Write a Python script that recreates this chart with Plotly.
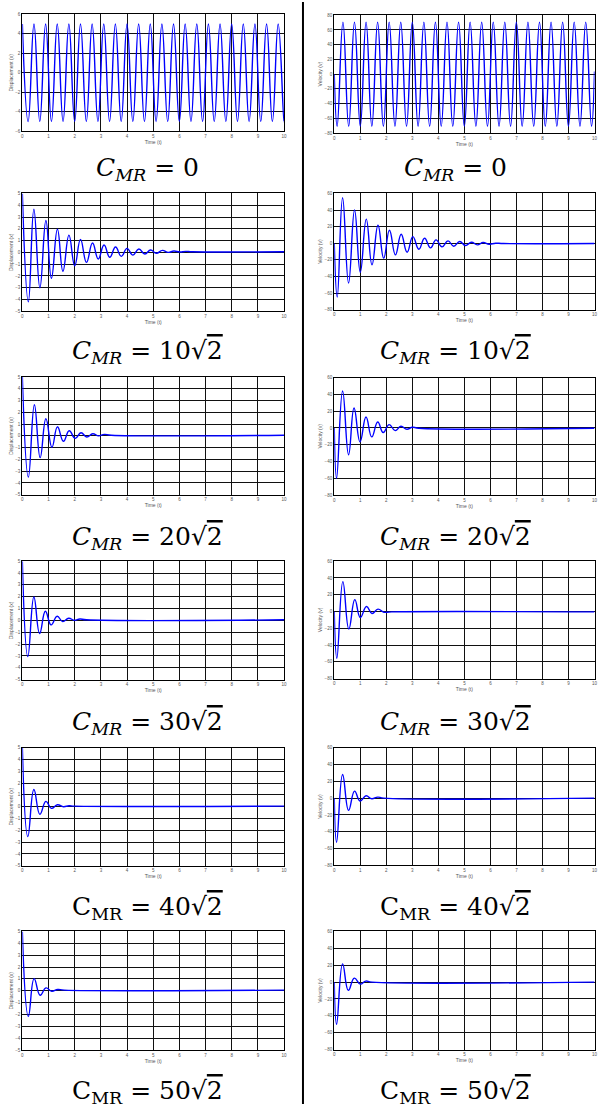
import plotly.graph_objects as go

# ---------------- data (extrema) ----------------
t_c0_disp = [0, 0.222, 0.444, 0.666, 0.889, 1.111, 1.333, 1.555, 1.777, 1.999,
             2.221, 2.444, 2.666, 2.888, 3.110, 3.332, 3.554, 3.776, 3.999, 4.221,
             4.443, 4.665, 4.887, 5.109, 5.331, 5.553, 5.776, 5.998, 6.220, 6.442,
             6.664, 6.886, 7.108, 7.331, 7.553, 7.775, 7.997, 8.219, 8.441, 8.663,
             8.886, 9.108, 9.330, 9.552, 9.774, 9.996, 10.0]
x_c0_disp = [5, -5, 5, -5, 5, -5, 5, -5, 5, -5,
             5, -5, 5, -5, 5, -5, 5, -5, 5, -5,
             5, -5, 5, -5, 5, -5, 5, -5, 5, -5,
             5, -5, 5, -5, 5, -5, 5, -5, 5, -5,
             5, -5, 5, -5, 5, -5, -4.99]

t_c0_vel = [0, 0.111, 0.333, 0.555, 0.777, 1.000, 1.222, 1.444, 1.666, 1.888, 2.110,
            2.332, 2.555, 2.777, 2.999, 3.221, 3.443, 3.665, 3.887, 4.110, 4.332,
            4.554, 4.776, 4.998, 5.220, 5.442, 5.665, 5.887, 6.109, 6.331, 6.553,
            6.775, 6.997, 7.220, 7.442, 7.664, 7.886, 8.108, 8.330, 8.552, 8.775,
            8.997, 9.219, 9.441, 9.663, 9.885, 10.0]
v_c0_vel = [0, -70.7, 70.7, -70.7, 70.7, -70.7, 70.7, -70.7, 70.7, -70.7, 70.7,
            -70.7, 70.7, -70.7, 70.7, -70.7, 70.7, -70.7, 70.7, -70.7, 70.7,
            -70.7, 70.7, -70.7, 70.7, -70.7, 70.7, -70.7, 70.7, -70.7, 70.7,
            -70.7, 70.7, -70.7, 70.7, -70.7, 70.7, -70.7, 70.7, -70.7, 70.7,
            -70.7, 70.7, -70.7, 70.7, -70.7, 3.5]

t_c10_disp = [0, 0.23, 0.44, 0.67, 0.9, 1.11, 1.34, 1.55, 1.78, 2.0, 2.22, 2.45, 2.68,
              2.9, 3.12, 3.34, 3.56, 3.78, 4.0, 4.22, 4.45, 4.68, 4.9, 5.12, 5.35,
              5.57, 5.79, 6.01, 6.24, 6.5, 10]
x_c10_disp = [5, -4.2, 3.66, -3.0, 2.7, -2.2, 1.97, -1.6, 1.46, -1.13, 1.1, -0.85, 0.79,
              -0.56, 0.62, -0.42, 0.45, -0.34, 0.34, -0.23, 0.28, -0.14, 0.2, -0.08, 0.17,
              0.0, 0.11, 0.03, 0.08, 0.05, 0.05]
t_c10_vel = [0, 0.115, 0.32, 0.55, 0.78, 1.0, 1.23, 1.45, 1.68, 1.9, 2.12, 2.35, 2.57,
             2.8, 3.02, 3.25, 3.47, 3.7, 3.91, 4.14, 4.37, 4.59, 4.82, 5.04, 5.27, 5.5,
             5.72, 5.95, 6.2, 6.5, 10]
v_c10_vel = [0, -65, 54.8, -48, 40, -35, 29, -26, 21.6, -18, 15.6, -14, 10.8,
             -10.8, 8, -7.2, 6, -5.6, 4, -4.4, 2.8, -3.6, 2, -2.8, 1.2, -2,
             0.8, -1.2, 0, -0.4, -0.4]

t_c20_disp = [0, 0.23, 0.46, 0.68, 0.9, 1.13, 1.34, 1.57, 1.79, 2.02, 2.24, 2.46, 2.69,
              2.91, 3.13, 3.4, 10]
x_c20_disp = [5, -3.5, 2.65, -1.85, 1.45, -0.97, 0.77, -0.46, 0.44, -0.21, 0.27, -0.1,
              0.18, 0.0, 0.13, 0.06, 0.06]
t_c20_vel = [0, 0.09, 0.32, 0.55, 0.76, 0.99, 1.22, 1.44, 1.67, 1.88, 2.11, 2.34, 2.56,
             2.79, 3.0, 3.25, 10]
v_c20_vel = [0, -60, 44, -32, 23.7, -16.6, 13, -10.7, 7.1, -5.5, 4, -3.2, 2, -1.6, 0.8,
             -0.4, -0.4]

t_c30_disp = [0, 0.21, 0.44, 0.66, 0.88, 1.1, 1.33, 1.54, 1.77, 1.99, 2.2, 2.45, 10]
x_c30_disp = [5, -3.05, 1.97, -1.1, 0.77, -0.38, 0.35, -0.1, 0.18, 0.01, 0.12, 0.05, 0.05]
t_c30_vel = [0, 0.1, 0.33, 0.56, 0.79, 1.0, 1.24, 1.45, 1.68, 1.91, 2.2, 10]
v_c30_vel = [0, -55.7, 35.6, -21, 14.2, -7.1, 5.9, -2.4, 2.8, -0.8, -0.4, -0.4]

t_c40_disp = [0, 0.21, 0.44, 0.67, 0.9, 1.11, 1.34, 1.57, 1.78, 2.0, 10]
x_c40_disp = [5, -2.53, 1.46, -0.65, 0.45, -0.14, 0.17, 0.0, 0.08, 0.05, 0.05]
t_c40_vel = [0, 0.09, 0.32, 0.55, 0.78, 0.99, 1.22, 1.44, 1.67, 1.9, 10]
v_c40_vel = [0, -52.4, 28, -14.6, 8.3, -3.5, 2.8, -0.8, 1.2, 0, 0]

t_c50_disp = [0, 0.23, 0.45, 0.68, 0.9, 1.12, 1.35, 1.6, 10]
x_c50_disp = [5, -2.15, 1.02, -0.38, 0.24, -0.04, 0.1, 0.05, 0.05]
t_c50_vel = [0, 0.09, 0.32, 0.54, 0.77, 1.0, 1.21, 1.45, 10]
v_c50_vel = [0, -50, 21.6, -9.8, 4.7, -2.4, 1.2, 0, 0]

time_ticks = [0, 1, 2, 3, 4, 5, 6, 7, 8, 9, 10]
disp_ticks_c0 = [-6, -4, -2, 0, 2, 4, 6]
disp_ticks = [-5, -4, -3, -2, -1, 0, 1, 2, 3, 4, 5]
vel_ticks_c0 = [-80, -60, -40, -20, 0, 20, 40, 60, 80]
vel_ticks = [-80, -60, -40, -20, 0, 20, 40, 60]

captions = [
    "<i>C</i><sub><i>MR</i></sub> = 0",
    "<i>C</i><sub><i>MR</i></sub> = 10√<span style='text-decoration:overline'>2</span>",
    "<i>C</i><sub><i>MR</i></sub> = 20√<span style='text-decoration:overline'>2</span>",
    "<i>C</i><sub><i>MR</i></sub> = 30√<span style='text-decoration:overline'>2</span>",
    "C<sub>MR</sub> = 40√<span style='text-decoration:overline'>2</span>",
    "C<sub>MR</sub> = 50√<span style='text-decoration:overline'>2</span>",
]

disp_series = [(t_c0_disp, x_c0_disp), (t_c10_disp, x_c10_disp), (t_c20_disp, x_c20_disp),
               (t_c30_disp, x_c30_disp), (t_c40_disp, x_c40_disp), (t_c50_disp, x_c50_disp)]
vel_series = [(t_c0_vel, v_c0_vel), (t_c10_vel, v_c10_vel), (t_c20_vel, v_c20_vel),
              (t_c30_vel, v_c30_vel), (t_c40_vel, v_c40_vel), (t_c50_vel, v_c50_vel)]

# ---------------- layout (pixel geometry) ----------------
W, H = 600, 1111
left_x = (21.5, 285.0)
right_x = (335.5, 597.5)
left_rows = [(12.3, 130.0), (192.3, 310.7), (376.7, 495.0), (561.7, 680.7), (749.0, 867.7), (933.7, 1052.7)]
right_rows = [(13.3, 131.7), (192.3, 309.0), (377.3, 495.3), (561.7, 679.7), (749.0, 867.3), (933.7, 1052.3)]
caption_y = [168, 352, 538, 724, 910, 1095]
caption_x = [147, 458]

fig = go.Figure()
layout = {}

SMALL = dict(size=4.5, color="#555", family="Arial")
TITLE = dict(size=5, color="#555", family="Arial")


def axis_common():
    return dict(showline=True, mirror=True, linecolor="black", linewidth=1.3,
                showgrid=True, gridcolor="#111", gridwidth=1.2, zeroline=False,
                ticks="", tickfont=SMALL, fixedrange=True)


idx = 0
for r in range(6):
    for side in range(2):
        idx += 1
        xa = "x" if idx == 1 else f"x{idx}"
        ya = "y" if idx == 1 else f"y{idx}"
        xk = "xaxis" if idx == 1 else f"xaxis{idx}"
        yk = "yaxis" if idx == 1 else f"yaxis{idx}"
        if side == 0:
            xs, (top, bot) = left_x, left_rows[r]
            tt, yy = disp_series[r]
            yticks = disp_ticks_c0 if r == 0 else disp_ticks
            ytitle = "Displacement (x)"
        else:
            xs, (top, bot) = right_x, right_rows[r]
            tt, yy = vel_series[r]
            yticks = vel_ticks_c0 if r == 0 else vel_ticks
            ytitle = "Velocity (v)"
        fig.add_trace(go.Scatter(x=tt, y=yy, mode="lines",
                                 line=dict(color="#0000ff", width=1.4, shape="spline", smoothing=1.3),
                                 xaxis=xa, yaxis=ya, showlegend=False, hoverinfo="skip"))
        ax = axis_common()
        ax.update(domain=[xs[0] / W, xs[1] / W], anchor=ya, range=[0, 10],
                  tickvals=time_ticks,
                  title=dict(text="Time (t)", font=TITLE, standoff=1))
        layout[xk] = ax
        ay = axis_common()
        ay.update(domain=[1 - bot / H, 1 - top / H], anchor=xa,
                  range=[yticks[0], yticks[-1]], tickvals=yticks,
                  title=dict(text=ytitle, font=TITLE, standoff=1))
        layout[yk] = ay

annotations = []
for r in range(6):
    for side in range(2):
        annotations.append(dict(text=captions[r], x=caption_x[side] / W, y=1 - caption_y[r] / H,
                                xref="paper", yref="paper", xanchor="center", yanchor="middle",
                                showarrow=False,
                                font=dict(size=25, color="black", family="DejaVu Serif")))

shapes = [dict(type="line", xref="paper", yref="paper", x0=304 / W, x1=304 / W,
               y0=1 - 1107 / H, y1=1, line=dict(color="black", width=2))]

fig.update_layout(width=W, height=H, margin=dict(l=0, r=0, t=0, b=0),
                  paper_bgcolor="white", plot_bgcolor="white",
                  annotations=annotations, shapes=shapes, **layout)

fig.write_html("out.html", config={"displayModeBar": False},
               post_script="document.body.style.margin='0px';document.body.style.overflow='hidden';")
